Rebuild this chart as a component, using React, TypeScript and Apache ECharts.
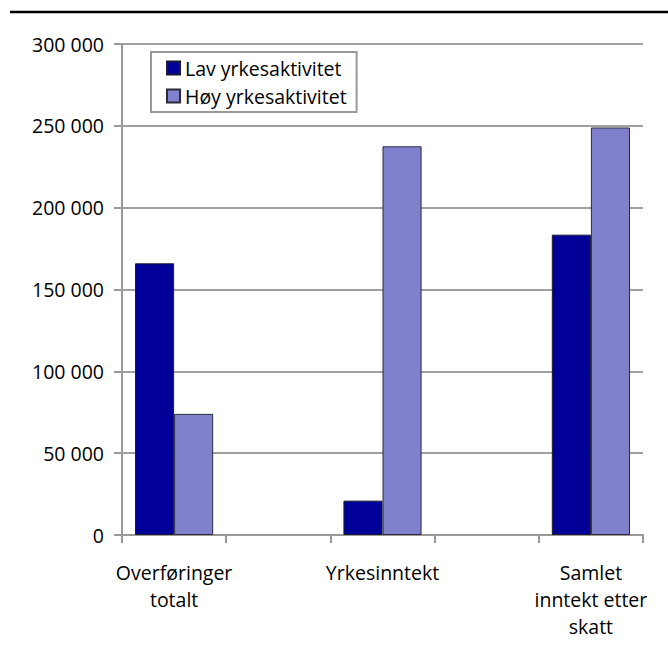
import React, { useEffect, useRef } from "react";
import * as echarts from "echarts";

const categories = ["Overføringer\ntotalt", "", "Yrkesinntekt", "", "Samlet\ninntekt etter\nskatt"];
const seriesNames = ["Lav yrkesaktivitet", "Høy yrkesaktivitet"];
const lavValues = [166000, null, 21000, null, 183500];
const hoyValues = [74000, null, 237500, null, 249000];
const yMin = 0;
const yMax = 300000;
const yInterval = 50000;

const FONT = "'Open Sans', sans-serif";
const FS = 19.5;

export default function App() {
  const ref = useRef<HTMLDivElement>(null);
  useEffect(() => {
    if (!ref.current) return;
    const chart = echarts.init(ref.current, undefined, { renderer: "svg" });
    chart.setOption({
      animation: false,
      backgroundColor: "#ffffff",
      textStyle: { fontFamily: FONT, color: "#000" },
      graphic: [
        {
          type: "line",
          shape: { x1: 10, y1: 12, x2: 668, y2: 12 },
          style: { stroke: "#000", lineWidth: 2.5 },
        },
      ],
      grid: { left: 122, right: 25, top: 44, bottom: 113, containLabel: false },
      legend: {
        orient: "vertical",
        left: 151,
        top: 52,
        backgroundColor: "#fff",
        borderColor: "#999",
        borderWidth: 2,
        padding: [6, 10, 6, 15],
        itemWidth: 13,
        itemHeight: 13,
        itemGap: 8,
        icon: "rect",
        textStyle: { fontFamily: FONT, fontSize: FS, lineHeight: 20, color: "#000" },
        data: seriesNames,
      },
      xAxis: {
        type: "category",
        data: categories,
        boundaryGap: true,
        axisLine: { lineStyle: { color: "#999", width: 2 } },
        axisTick: { show: true, length: 8, interval: 0, lineStyle: { color: "#999", width: 2 } },
        axisLabel: {
          interval: 0,
          margin: 24,
          fontFamily: FONT,
          fontSize: FS,
          lineHeight: 27,
          color: "#000",
          align: "center",
        },
        splitLine: { show: false },
      },
      yAxis: {
        type: "value",
        min: yMin,
        max: yMax,
        interval: yInterval,
        axisLine: { show: true, lineStyle: { color: "#999", width: 2 } },
        axisTick: { show: true, length: 8, lineStyle: { color: "#999", width: 2 } },
        axisLabel: {
          margin: 18,
          fontFamily: FONT,
          fontSize: FS,
          color: "#000",
          formatter: (v: number) => String(v).replace(/\B(?=(\d{3})+(?!\d))/g, " "),
        },
        splitLine: { show: true, lineStyle: { color: "#a0a0a0", width: 2 } },
      },
      series: [
        {
          name: seriesNames[0],
          type: "bar",
          data: lavValues,
          barGap: "0%",
          barCategoryGap: "25%",
          itemStyle: { color: "#000099", borderColor: "#1a1a33", borderWidth: 1 },
        },
        {
          name: seriesNames[1],
          type: "bar",
          data: hoyValues,
          barGap: "0%",
          barCategoryGap: "25%",
          itemStyle: { color: "#8080cc", borderColor: "#2a2a3a", borderWidth: 1 },
        },
      ],
    });
    return () => chart.dispose();
  }, []);
  return (
    <div
      ref={ref}
      style={{ position: "fixed", left: 0, top: 0, width: 668, height: 648 }}
    />
  );
}
